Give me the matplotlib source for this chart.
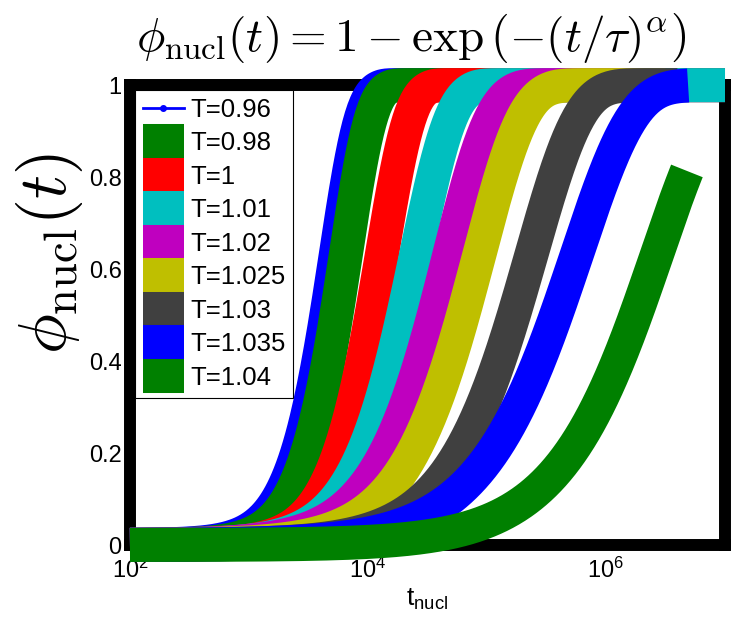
import matplotlib
matplotlib.use('Agg')
import matplotlib.pyplot as plt
from matplotlib.lines import Line2D
from matplotlib.ticker import NullLocator
import numpy as np

plt.rcParams.update({
    'font.family': 'sans-serif',
    'font.sans-serif': ['Liberation Sans', 'DejaVu Sans'],
    'mathtext.fontset': 'cm',
})

# Weibull fit parameters, one per temperature
temps = ['0.96', '0.98', '1', '1.01', '1.02', '1.025', '1.03', '1.035', '1.04']
log_tau = [3.73, 3.814, 4.117, 4.405, 4.684, 4.936, 5.374, 5.755, 6.428]
alpha = [2.0, 2.0, 1.81, 1.45, 1.21, 1.16, 1.07, 0.913, 0.893]
log_t_end = [7.0, 7.0, 7.0, 7.0, 6.3, 6.5, 6.6, 6.69, 6.68]
colors = ['#0000ff', '#008000', '#ff0000', '#00bfbf', '#bf00bf',
          '#bfbf00', '#404040', '#0000ff', '#008000']

yticks = [0, 0.2, 0.4, 0.6, 0.8, 1]
xticks = [1e2, 1e4, 1e6]

fig = plt.figure(figsize=(7.31, 6.30), dpi=100)
ax = fig.add_axes([0.1778, 0.1349, 0.814, 0.730])

lw = 24.5  # very thick lines, as in the original
for lt, a, te, c in zip(log_tau, alpha, log_t_end, colors):
    t = np.logspace(2, te, 500)
    phi = 1 - np.exp(-(t / 10**lt) ** a)
    ax.plot(t, phi, color=c, lw=lw, solid_capstyle='butt',
            solid_joinstyle='round', clip_on=False, zorder=3)

ax.set_xscale('log')
ax.set_xlim(1e2, 1e7)
ax.set_ylim(0, 1)
ax.set_xticks(xticks)
ax.xaxis.set_minor_locator(NullLocator())
ax.set_yticks(yticks)
ax.set_yticklabels(['0', '0.2', '0.4', '0.6', '0.8', '1'])
ax.tick_params(axis='both', length=0, labelsize=17)
ax.tick_params(axis='y', pad=6)
ax.tick_params(axis='x', pad=9)

for s in ax.spines.values():
    s.set_linewidth(8.6)
    s.set_color('black')
    s.set_capstyle('projecting')
    s.set_zorder(2.5)

# legend: first entry is the thin data line, the rest thick bands
handles = [Line2D([], [], color='#0000ff', lw=2, marker='.', markersize=8)]
for c in colors[1:]:
    handles.append(Line2D([], [], color=c, lw=lw, solid_capstyle='butt'))
leg = ax.legend(handles, ['T=' + T for T in temps], loc='upper left',
                bbox_to_anchor=(0.0084, 0.989), borderaxespad=0,
                fontsize=18.5, handlelength=1.6, handletextpad=0.25,
                labelspacing=0.37, borderpad=0.3, fancybox=False,
                framealpha=1, edgecolor='black')
leg.get_frame().set_linewidth(0.8)
leg.set_zorder(5)

fig.text(0.562, 0.94, r'$\phi_{\mathrm{nucl}}(t) = 1 - \exp\left(-(t/\tau)^{\alpha}\right)$',
         fontsize=34, ha='center', va='center')
fig.text(0.068, 0.598, r'$\phi_{\mathrm{nucl}}(t)$', fontsize=48,
         rotation=90, ha='center', va='center')
fig.text(0.584, 0.048, r'$\mathregular{t_{nucl}}$', fontsize=19,
         ha='center', va='center')

fig.savefig('out.png', dpi=100, facecolor='white')
